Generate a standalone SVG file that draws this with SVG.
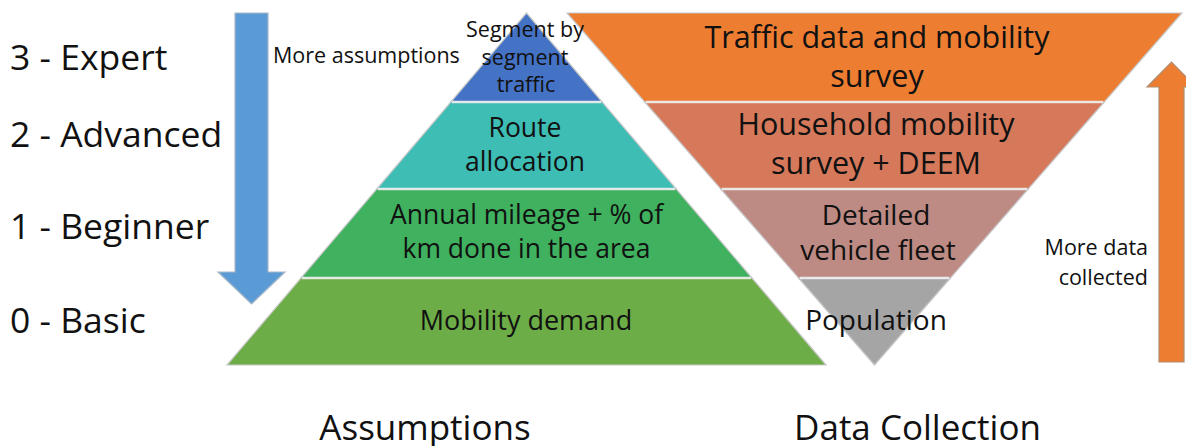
<svg xmlns="http://www.w3.org/2000/svg" width="1186" height="446" viewBox="0 0 1186 446">
  <style>
    text { font-family: "Open Sans", "Noto Sans", "Liberation Sans", sans-serif; fill: #111111; }
    .lvl { font-size: 35.5px; }
    .pyr { font-size: 26.5px; text-anchor: middle; }
    .sm { font-size: 21.5px; }
    .smc { font-size: 21.5px; text-anchor: middle; }
    .inv { font-size: 30.5px; text-anchor: middle; }
    .inv2 { font-size: 28px; text-anchor: middle; }
    .title { font-size: 35px; text-anchor: middle; }
    .layer { stroke: #c8c8c8; stroke-width: 1.2; }
    .div { stroke: #f2f2f2; stroke-width: 2.5; opacity: 0.85; }
    .arrow { stroke-width: 1.2; }
  </style>

  <!-- Level labels -->
  <g id="levels">
    <text class="lvl" x="10" y="70">3 - Expert</text>
    <text class="lvl" x="10" y="147">2 - Advanced</text>
    <text class="lvl" x="10" y="239">1 - Beginner</text>
    <text class="lvl" x="10" y="333">0 - Basic</text>
  </g>

  <!-- Connectors / arrows -->
  <g id="connectors">
    <polygon class="arrow" points="235,13 268,13 268,272 285,272 251.5,304 218,272 235,272" fill="#5B9BD5" stroke="#a9b8c8"/>
    <polygon class="arrow" points="1159,362 1184,362 1184,87 1196,87 1171.5,62 1147,87 1159,87" fill="#ED7D31" stroke="#b08b70"/>
  </g>

  <!-- Assumptions pyramid -->
  <g id="pyr-segment">
    <polygon class="layer" points="526.5,13 602.2,102 450.8,102" fill="#4472C4"/>
  </g>
  <g id="pyr-route">
    <polygon class="layer" points="450.8,102 602.2,102 676.25,189 376.75,189" fill="#3EBDB5"/>
    <text class="pyr" x="525" y="137">Route</text>
    <text class="pyr" x="525" y="171">allocation</text>
  </g>
  <g id="pyr-annual">
    <polygon class="layer" points="376.75,189 676.25,189 752,278 301,278" fill="#3FB15F"/>
    <text class="pyr" x="526.5" y="224">Annual mileage + % of</text>
    <text class="pyr" x="526.5" y="258">km done in the area</text>
  </g>
  <g id="pyr-demand">
    <polygon class="layer" points="301,278 752,278 826,365 227,365" fill="#6DAD47"/>
    <text class="pyr" x="526" y="330" style="font-size:27px">Mobility demand</text>
  </g>

  <!-- Data collection inverted pyramid -->
  <g id="inv-traffic">
    <polygon class="layer" points="567,13 1182,13 1104.3,102 644.7,102" fill="#ED7D31"/>
    <text class="inv" x="877" y="48">Traffic data and mobility</text>
    <text class="inv" x="877" y="87">survey</text>
  </g>
  <g id="inv-household">
    <polygon class="layer" points="644.7,102 1104.3,102 1028.25,189 720.75,189" fill="#D6795B"/>
    <text class="inv" x="876" y="135">Household mobility</text>
    <text class="inv" x="876" y="174">survey + DEEM</text>
  </g>
  <g id="inv-fleet">
    <polygon class="layer" points="720.75,189 1028.25,189 950.5,278 798.5,278" fill="#BD8B83"/>
    <text class="inv2" x="876" y="225">Detailed</text>
    <text class="inv2" x="878" y="260">vehicle fleet</text>
  </g>
  <g id="inv-population">
    <polygon class="layer" points="798.5,278 950.5,278 874.5,365" fill="#A5A5A5"/>
    <text class="inv2" x="876" y="330">Population</text>
  </g>

  <!-- Layer dividers -->
  <g id="dividers">
    <line class="div" x1="452" y1="102" x2="601" y2="102"/>
    <line class="div" x1="378" y1="189" x2="675" y2="189"/>
    <line class="div" x1="302" y1="278" x2="751" y2="278"/>
    <line class="div" x1="646" y1="102" x2="1103" y2="102"/>
    <line class="div" x1="722" y1="189" x2="1027" y2="189"/>
    <line class="div" x1="800" y1="278" x2="949" y2="278"/>
  </g>

  <!-- Texts overlapping the top of the pyramid -->
  <g id="seg-label">
    <text class="smc" x="525" y="37">Segment by</text>
    <text class="smc" x="525" y="65">segment</text>
    <text class="smc" x="526" y="92">traffic</text>
  </g>
  <g id="more-assumptions">
    <text class="sm" x="273" y="63">More assumptions</text>
  </g>
  <g id="more-data">
    <text class="sm" x="1148" y="255" text-anchor="end">More data</text>
    <text class="sm" x="1148" y="285" text-anchor="end">collected</text>
  </g>

  <!-- Titles -->
  <g id="titles">
    <text class="title" x="425" y="440">Assumptions</text>
    <text class="title" x="917.5" y="440">Data Collection</text>
  </g>
</svg>
